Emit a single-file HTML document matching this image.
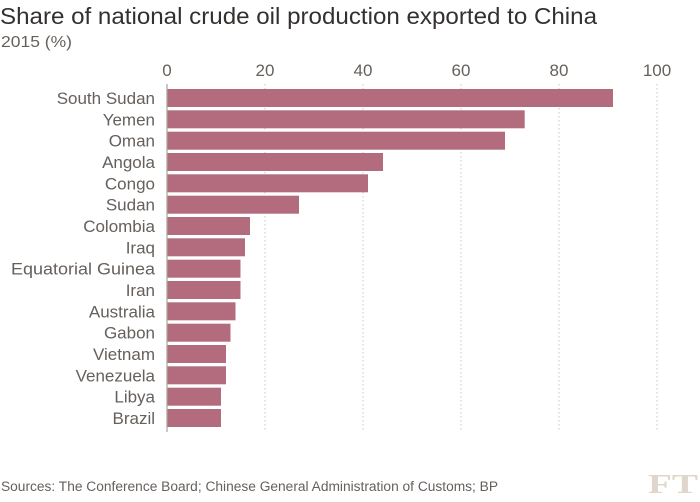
<!DOCTYPE html>
<html><head><style>
body{margin:0;background:#fff;}
svg text{font-family:"Liberation Sans",sans-serif;}
</style></head><body>
<svg width="700" height="497" xmlns="http://www.w3.org/2000/svg">
<text x="0" y="24" font-size="23" fill="#33302e" textLength="597" lengthAdjust="spacingAndGlyphs">Share of national crude oil production exported to China</text>
<text x="1" y="47" font-size="15.5" fill="#66605c" textLength="71" lengthAdjust="spacingAndGlyphs">2015 (%)</text>
<g font-size="17" fill="#66605c" text-anchor="middle">
<text x="167" y="76">0</text><text x="265" y="76">20</text><text x="363" y="76">40</text><text x="461" y="76">60</text><text x="559" y="76">80</text><text x="657" y="76">100</text>
</g>
<g stroke="#ccc2c2" stroke-width="1" stroke-dasharray="1.5,2.5">
<line x1="265" y1="84" x2="265" y2="432"/><line x1="363" y1="84" x2="363" y2="432"/><line x1="461" y1="84" x2="461" y2="432"/><line x1="559" y1="84" x2="559" y2="432"/><line x1="657" y1="84" x2="657" y2="432"/>
</g>
<g fill="#b36b7e">
<rect x="167" y="89" width="446" height="18"/>
<rect x="167" y="110.3" width="357.7" height="18"/>
<rect x="167" y="131.7" width="338" height="18"/>
<rect x="167" y="153" width="216" height="18"/>
<rect x="167" y="174.3" width="201" height="18"/>
<rect x="167" y="195.7" width="132" height="18"/>
<rect x="167" y="217" width="83" height="18"/>
<rect x="167" y="238.3" width="78" height="18"/>
<rect x="167" y="259.7" width="73.5" height="18"/>
<rect x="167" y="281" width="73.5" height="18"/>
<rect x="167" y="302.3" width="68.5" height="18"/>
<rect x="167" y="323.7" width="63.5" height="18"/>
<rect x="167" y="345" width="59" height="18"/>
<rect x="167" y="366.3" width="59" height="18"/>
<rect x="167" y="387.7" width="54" height="18"/>
<rect x="167" y="409" width="54" height="18"/>
</g>
<line x1="167" y1="84" x2="167" y2="432" stroke="#a7a59b" stroke-width="1.2"/>
<g font-size="17" fill="#66605c" text-anchor="end">
<text x="155" y="104">South Sudan</text>
<text x="155" y="125.3">Yemen</text>
<text x="155" y="146.7">Oman</text>
<text x="155" y="168">Angola</text>
<text x="155" y="189.3">Congo</text>
<text x="155" y="210.7">Sudan</text>
<text x="155" y="232">Colombia</text>
<text x="155" y="253.3">Iraq</text>
<text x="155" y="274.7" textLength="144" lengthAdjust="spacingAndGlyphs">Equatorial Guinea</text>
<text x="155" y="296">Iran</text>
<text x="155" y="317.3">Australia</text>
<text x="155" y="338.7">Gabon</text>
<text x="155" y="360">Vietnam</text>
<text x="155" y="381.3">Venezuela</text>
<text x="155" y="402.7">Libya</text>
<text x="155" y="424">Brazil</text>
</g>
<text x="1" y="491" font-size="13.5" fill="#66605c" textLength="497" lengthAdjust="spacingAndGlyphs">Sources: The Conference Board; Chinese General Administration of Customs; BP</text>
<text x="698" y="493" font-size="27" font-weight="bold" fill="#e0d6cc" text-anchor="end" style="font-family:'Liberation Serif',serif" textLength="50" lengthAdjust="spacingAndGlyphs">FT</text>
</svg>
</body></html>
